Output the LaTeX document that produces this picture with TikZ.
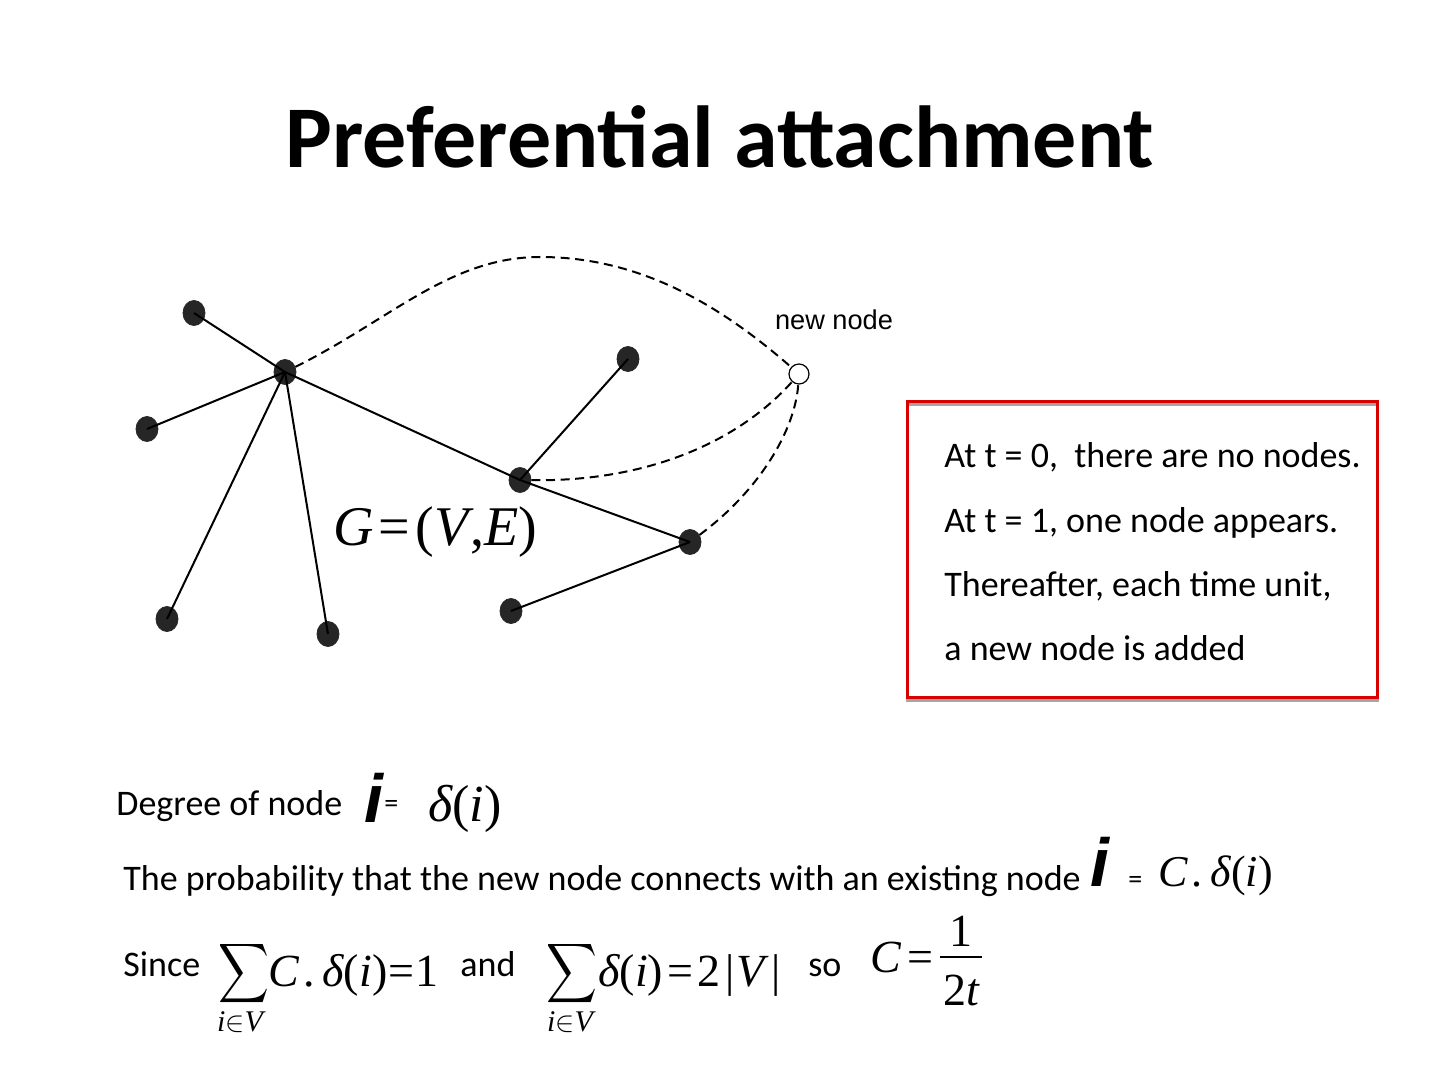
\documentclass[tikz,border=0pt]{standalone}
\usepackage{exscale}
\usepackage{fontspec}
\setmainfont{Carlito}
\newfontfamily\arialf{Liberation Sans}
\newfontfamily\tmsf{Liberation Serif}
\usetikzlibrary{shapes.geometric}
\begin{document}
\begin{tikzpicture}[x=0.5pt,y=-0.5pt,
  gnode/.style={ellipse,fill=black!85,draw=black!85,minimum width=11pt,minimum height=12.5pt,inner sep=0pt},
  newn/.style={circle,draw=black,line width=0.6pt,fill=white,minimum size=10pt,inner sep=0pt},
  edge/.style={line width=1pt,black},
  dedge/.style={line width=1pt,black,dash pattern=on 4.5pt off 2.8pt},
  txt/.style={anchor=base west,inner sep=0pt,font=\fontsize{18}{21}\selectfont},
  bi/.style={anchor=base,inner sep=0pt,font=\arialf\bfseries\itshape\fontsize{34}{36}\selectfont},
  mth/.style={anchor=base west,inner sep=0pt},
  sumsym/.style={inner sep=0pt}
]
\useasboundingbox (0,0) rectangle (1440,1080);
\fill[white] (0,0) rectangle (1440,1080);

% title
\node[anchor=base,inner sep=0pt,font=\bfseries\fontsize{44}{50}\selectfont] (title) at (720,168) {Preferential attachment};

% graph
\node[gnode] (a) at (194,313) {};
\node[gnode] (h) at (285,372) {};
\node[gnode] (b) at (147,429) {};
\node[gnode] (c) at (628,359) {};
\node[gnode] (d) at (520,480) {};
\node[gnode] (e) at (690,542) {};
\node[gnode] (f) at (167,619) {};
\node[gnode] (g) at (328,634) {};
\node[gnode] (i) at (511,611) {};
\node[newn] (n) at (799,374) {};

\draw[edge] (a.center) -- (h.center);
\draw[edge] (h.center) -- (b.center);
\draw[edge] (h.center) -- (f.center);
\draw[edge] (h.center) -- (g.center);
\draw[edge] (h.center) -- (d.center);
\draw[edge] (d.center) -- (c.center);
\draw[edge] (d.center) -- (e.center);
\draw[edge] (e.center) -- (i.center);

\coordinate (top) at (540,257);
\draw[dedge] (h) .. controls (390,320) and (450,257) .. (top) .. controls (640,257) and (720,305) .. (n);
\draw[dedge] (d) .. controls (650,482) and (740,440) .. (n);
\draw[dedge] (e) .. controls (760,490) and (795,430) .. (n);

\node[anchor=base,inner sep=0pt,font=\arialf\fontsize{13.6}{15}\selectfont] (nl) at (834,330) {new node};
\node[mth,font=\tmsf\fontsize{28}{30}\selectfont] (gve) at (333,545) {\itshape G\/\upshape\kern2.5pt=\kern2.5pt(\itshape V\upshape\kern1pt,\itshape E\/\upshape)};

% box
\draw[gray!70,line width=1.5pt] (907,405) rectangle (1377,700);
\draw[red!85!black,line width=1.5pt] (907,402) rectangle (1377,697);
\node[txt] (l1) at (944,467) {At t = 0,\ \ there are no nodes.};
\node[txt] (l2) at (944,532) {At t = 1, one node appears.};
\node[txt] (l3) at (944,596) {Thereafter, each time unit,};
\node[txt] (l4) at (944,660) {a new node is added};

% degree row
\node[txt] (deg) at (116,815) {Degree of node};
\node[bi] (i1) at (374,822) {i};
\node[txt] (eq1) at (384,812) {\fontsize{14}{16}\selectfont =};
\node[mth,font=\tmsf\fontsize{26}{28}\selectfont] (d1) at (428,821) {\itshape δ\upshape(\itshape i\/\upshape)};

% probability row
\node[txt] (prob) at (123,890) {The probability that the new node connects with an existing node};
\node[bi] (i2) at (1100,886) {i};
\node[txt] (eq2) at (1128,888) {\fontsize{14}{16}\selectfont =};
\node[mth,font=\tmsf\fontsize{22}{24}\selectfont] (cd) at (1158,886) {\itshape C\upshape\kern2pt.\kern4pt\itshape δ\upshape(\itshape i\/\upshape)};

% since row
\node[txt] (since) at (123,976) {Since};
\node[sumsym] (s1) at (244,974) {\scalebox{0.85}[1]{\fontsize{20}{22}\selectfont$\displaystyle\sum$}};
\node[inner sep=0pt,font=\tmsf\fontsize{15}{17}\selectfont] (s1b) at (240,1022) {\itshape i\/\upshape$\in$\itshape V};
\node[mth,font=\tmsf\fontsize{23}{25}\selectfont] (e1) at (268,986) {\itshape C\upshape\kern2pt.\kern4pt\itshape δ\upshape(\itshape i\/\upshape)\kern0.5pt=\kern0.5pt1};
\node[txt] (and) at (460,976) {and};
\node[sumsym] (s2) at (572,974) {\scalebox{0.85}[1]{\fontsize{20}{22}\selectfont$\displaystyle\sum$}};
\node[inner sep=0pt,font=\tmsf\fontsize{15}{17}\selectfont] (s2b) at (570,1022) {\itshape i\/\upshape$\in$\itshape V};
\node[mth,font=\tmsf\fontsize{23}{25}\selectfont] (e2) at (598,986) {\itshape δ\upshape(\itshape i\/\upshape)\kern2pt=\kern2pt2\kern2.5pt|\kern1pt\itshape V\/\upshape\kern1.5pt|};
\node[txt] (so) at (808,976) {so};
\node[mth,font=\tmsf\fontsize{23}{25}\selectfont] (ceq) at (870,972) {\itshape C\/\upshape\kern3pt=};
\node[anchor=base,inner sep=0pt,font=\tmsf\fontsize{23}{25}\selectfont] (one) at (961,946) {1};
\coordinate (fl) at (940,957);
\coordinate (fr) at (982,957);
\draw[line width=0.9pt] (fl) -- (fr);
\node[anchor=base,inner sep=0pt,font=\tmsf\fontsize{23}{25}\selectfont] (two) at (961,1005) {2\itshape t};
\end{tikzpicture}
\end{document}
